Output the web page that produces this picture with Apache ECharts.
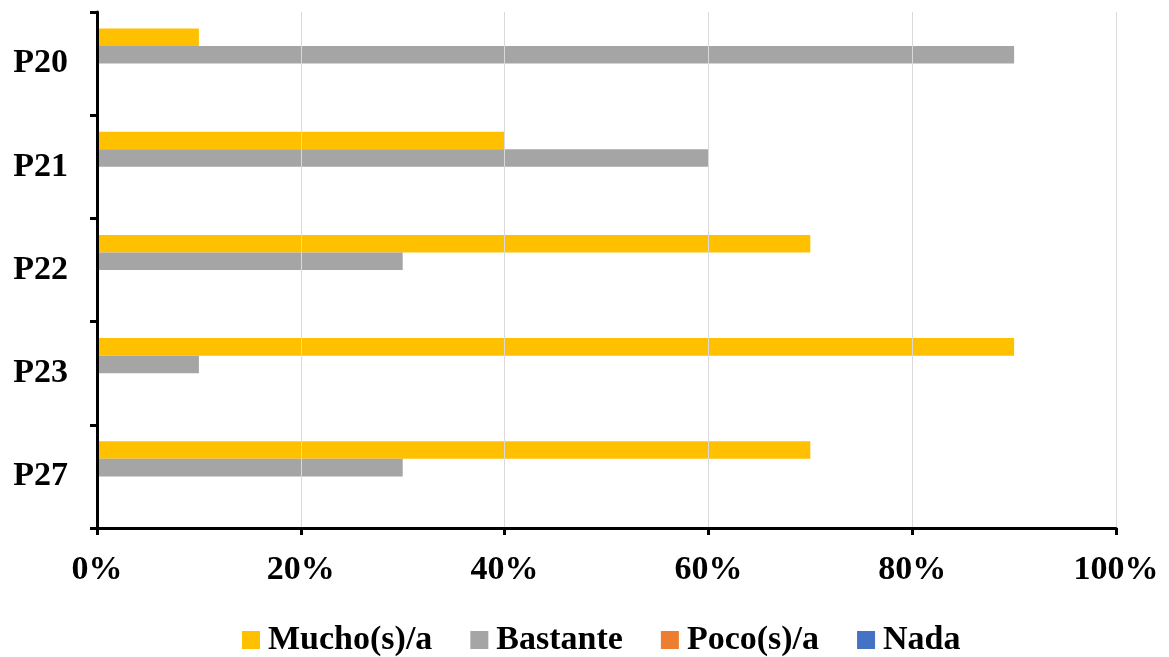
<!DOCTYPE html>
<html>
<head>
<meta charset="utf-8">
<style>
  html, body { margin: 0; padding: 0; background: #fff; }
  #chart { width: 1169px; height: 657px; }
</style>
<script src="https://cdn.jsdelivr.net/npm/echarts@6/dist/echarts.min.js"></script>
</head>
<body>
<div id="chart"></div>
<script>
// Questions (top to bottom)
const categories = ['P20', 'P21', 'P22', 'P23', 'P27'];

// Share of answers per question, in percent
const mucho    = [10, 40, 70, 90, 70];
const bastante = [90, 60, 30, 10, 30];
const poco     = [0, 0, 0, 0, 0];
const nada     = [0, 0, 0, 0, 0];

const seriesNames = ['Mucho(s)/a', 'Bastante', 'Poco(s)/a', 'Nada'];
const seriesColors = ['#FFC000', '#A5A5A5', '#ED7D31', '#4472C4'];
const seriesValues = [mucho, bastante, poco, nada];

const FONT = '"Liberation Serif", "Times New Roman", serif';

const chart = echarts.init(document.getElementById('chart'), null, { renderer: 'canvas' });

chart.setOption({
  animation: false,
  backgroundColor: '#ffffff',
  textStyle: { fontFamily: FONT },
  grid: { left: 97, right: 53, top: 12, bottom: 129, containLabel: false },
  legend: {
    data: seriesNames,
    left: 237,
    top: 618,
    itemWidth: 18,
    itemHeight: 18,
    itemGap: 38,
    icon: 'rect',
    textStyle: { fontFamily: FONT, fontSize: 34, fontWeight: 'bold', color: '#000', padding: [0, 0, 0, 3] }
  },
  xAxis: {
    type: 'value',
    min: 0,
    max: 100,
    interval: 20,
    z: 3,
    axisLine: { show: true, lineStyle: { color: '#000', width: 3 } },
    axisTick: { show: true, length: 7, lineStyle: { color: '#000', width: 3 } },
    axisLabel: {
      formatter: '{value}%',
      margin: 25,
      fontFamily: FONT, fontSize: 34, fontWeight: 'bold', color: '#000'
    },
    splitLine: { show: true, lineStyle: { color: '#d9d9d9', width: 1 } }
  },
  yAxis: {
    type: 'category',
    data: categories,
    inverse: true,
    z: 3,
    axisLine: { show: true, lineStyle: { color: '#000', width: 3 } },
    axisTick: { show: true, length: 7, lineStyle: { color: '#000', width: 3 } },
    axisLabel: {
      margin: 29,
      fontFamily: FONT, fontSize: 34, fontWeight: 'bold', color: '#000'
    },
    splitLine: { show: false }
  },
  series: seriesNames.map((name, i) => ({
    name: name,
    type: 'bar',
    data: seriesValues[i],
    barGap: '0%',
    barCategoryGap: '32%',
    itemStyle: { color: seriesColors[i] }
  }))
});
</script>
</body>
</html>
